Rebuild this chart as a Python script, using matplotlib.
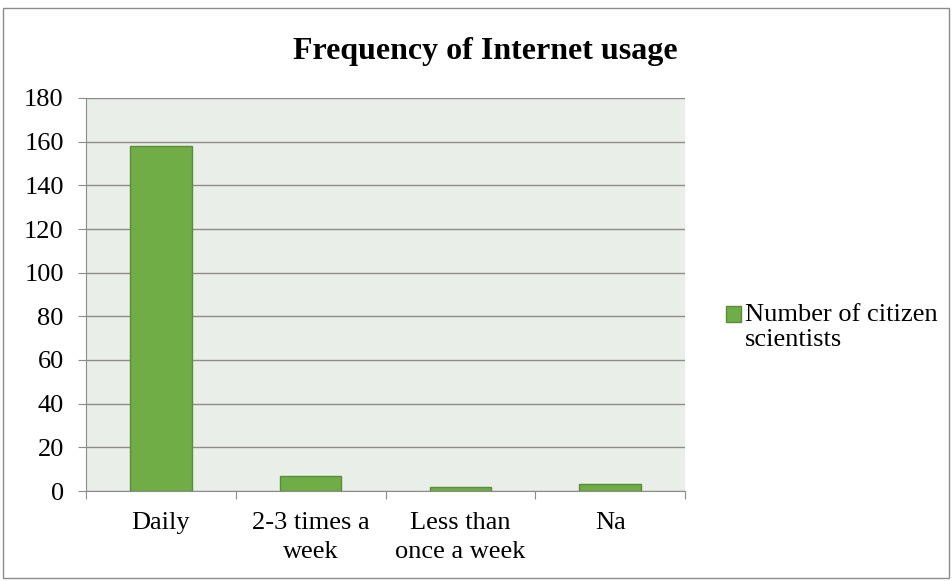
import matplotlib
matplotlib.use("Agg")
import matplotlib.pyplot as plt
from matplotlib.patches import Rectangle

categories = ["Daily", "2-3 times a\nweek", "Less than\nonce a week", "Na"]
counts = [158, 7, 2, 3]
series_name = "Number of citizen\nscientists"
y_ticks = list(range(0, 181, 20))

plt.rcParams["font.family"] = ["Liberation Serif", "DejaVu Serif"]

fig = plt.figure(figsize=(9.52, 5.81), dpi=100)
ax = fig.add_axes([86 / 952, 1 - 491 / 581, (685 - 86) / 952, (491 - 98) / 581])
ax.set_facecolor("#EAEEE8")

x = range(len(categories))
ax.bar(x, counts, width=0.41, color="#70AD47", edgecolor="#5A8C3A",
       linewidth=1, label=series_name, zorder=3)

ax.set_xlim(-0.5, len(categories) - 0.5)
ax.set_ylim(0, 180)
ax.set_yticks(y_ticks)
ax.tick_params(axis="y", labelsize=19, length=6, color="#8C8C8C", pad=10)
ax.yaxis.grid(True, color="#8C8C8C", linewidth=1, zorder=0)

# categories sit between the tick marks, as in the source chart
ax.set_xticks([i - 0.5 for i in range(len(categories) + 1)])
ax.set_xticklabels([])
ax.set_xticks(list(x), minor=True)
ax.set_xticklabels(categories, minor=True, fontsize=19, linespacing=1.4)
ax.tick_params(axis="x", which="major", length=6, color="#8C8C8C")
ax.tick_params(axis="x", which="minor", length=0, pad=15)

for side in ["top", "right"]:
    ax.spines[side].set_visible(False)
for side in ["left", "bottom"]:
    ax.spines[side].set_color("#8C8C8C")
ax.spines["bottom"].set_zorder(4)

fig.text(485 / 952, 1 - 51 / 581, "Frequency of Internet usage",
         ha="center", va="center", fontsize=23, fontweight="bold")

leg = ax.legend(loc="upper left", bbox_to_anchor=(726 / 952, 1 - 304 / 581),
                bbox_transform=fig.transFigure, frameon=False, fontsize=19,
                handlelength=0.55, handleheight=0.55, handletextpad=0.17,
                borderpad=0, borderaxespad=0, labelspacing=0)
# Excel puts the swatch next to the first line, not the middle of the label
for h in leg.legend_handles:
    h.set_y(h.get_y() + 9.5)

fig.patches.append(Rectangle((3 / 952, 3 / 581), 946 / 952, 570 / 581,
                             transform=fig.transFigure, fill=False,
                             edgecolor="#8C8C8C", linewidth=1))

fig.savefig("out.png", dpi=100)
